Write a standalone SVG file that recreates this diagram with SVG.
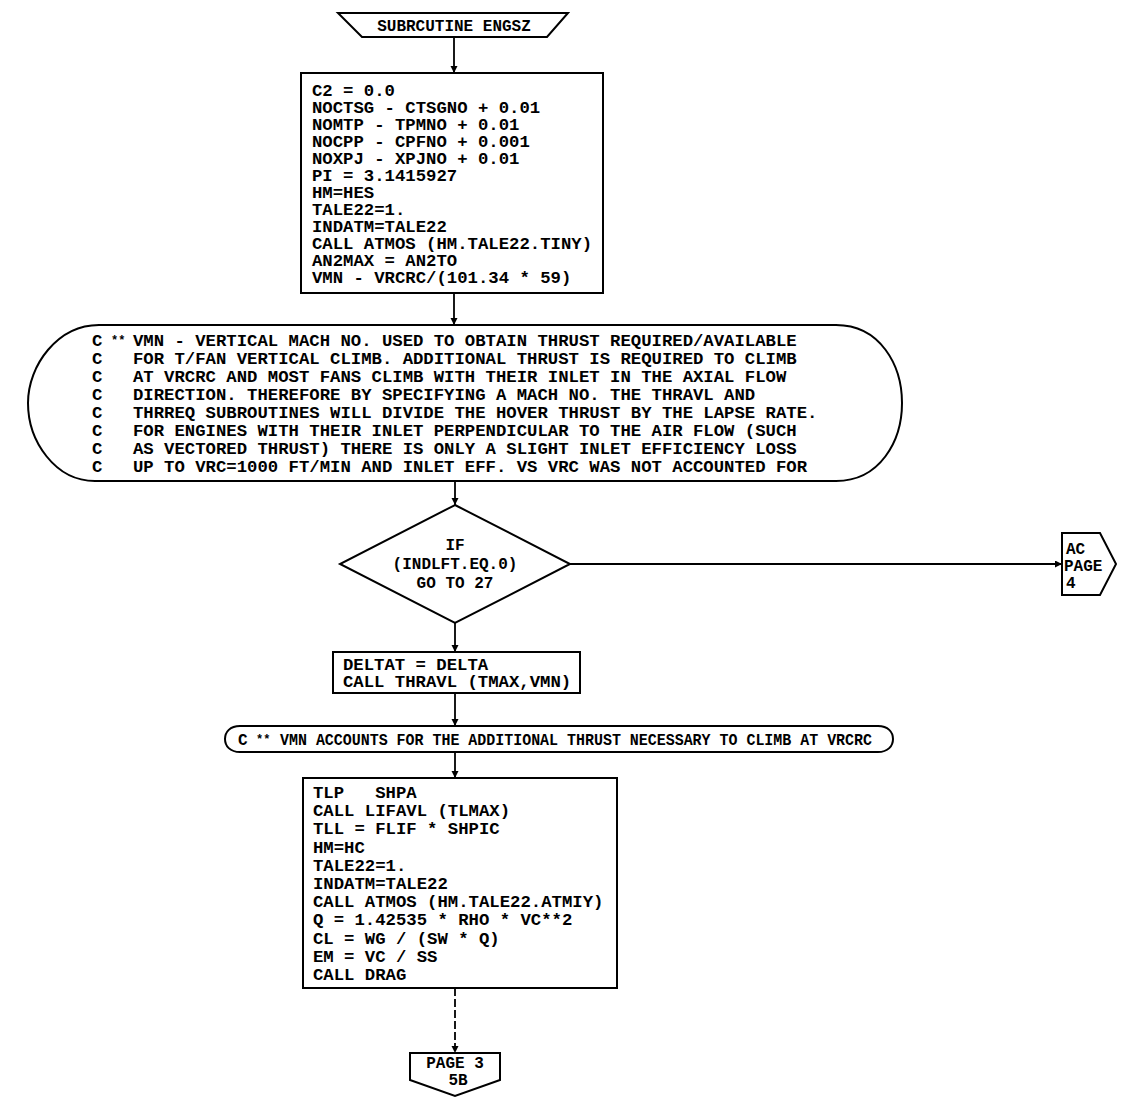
<svg xmlns="http://www.w3.org/2000/svg" width="1121" height="1114" viewBox="0 0 1121 1114">
<defs>
<marker id="arr" markerUnits="userSpaceOnUse" markerWidth="8" markerHeight="8" refX="7" refY="3.5" orient="auto">
<path d="M0,0 L7,3.5 L0,7 z" fill="#000"/>
</marker>
<style>
.shape{fill:#fff;stroke:#000;stroke-width:2}
text{white-space:pre}
.t{font-family:"Liberation Mono","DejaVu Sans Mono",monospace;font-size:17.3px;font-weight:bold;fill:#000}
.s{font-family:"Liberation Mono","DejaVu Sans Mono",monospace;font-size:16px;font-weight:bold;fill:#000}
.a{font-family:"Liberation Mono","DejaVu Sans Mono",monospace;font-size:12px;font-weight:bold;fill:#000}
.c{text-anchor:middle}
.ln{fill:none;stroke:#000;stroke-width:1.8}
.dash{stroke-dasharray:8 3}
</style>
</defs>
<rect width="1121" height="1114" fill="#fff"/>
<g id="connectors">
<line class="ln" x1="454" y1="37" x2="454" y2="73" marker-end="url(#arr)"/>
<line class="ln" x1="454" y1="293" x2="454" y2="325" marker-end="url(#arr)"/>
<line class="ln" x1="455" y1="481" x2="455" y2="505" marker-end="url(#arr)"/>
<line class="ln" x1="570" y1="564" x2="1062" y2="564" marker-end="url(#arr)"/>
<line class="ln" x1="455" y1="623" x2="455" y2="652" marker-end="url(#arr)"/>
<line class="ln" x1="455" y1="693" x2="455" y2="726" marker-end="url(#arr)"/>
<line class="ln" x1="455" y1="752" x2="455" y2="778" marker-end="url(#arr)"/>
<line class="ln dash" x1="455" y1="988" x2="455" y2="1053" marker-end="url(#arr)"/>
</g>
<g id="start">
<polygon class="shape" points="338,13 568,13 547,37 362,37"/>
<text class="s c" x="454" y="31">SUBRCUTINE ENGSZ</text>
</g>
<g id="box1">
<rect class="shape" x="301" y="73" width="302" height="220"/>
<text class="t" x="312" y="96">C2 = 0.0</text>
<text class="t" x="312" y="113">NOCTSG - CTSGNO + 0.01</text>
<text class="t" x="312" y="130">NOMTP - TPMNO + 0.01</text>
<text class="t" x="312" y="147">NOCPP - CPFNO + 0.001</text>
<text class="t" x="312" y="164">NOXPJ - XPJNO + 0.01</text>
<text class="t" x="312" y="181">PI = 3.1415927</text>
<text class="t" x="312" y="198">HM=HES</text>
<text class="t" x="312" y="215">TALE22=1.</text>
<text class="t" x="312" y="232">INDATM=TALE22</text>
<text class="t" x="312" y="249">CALL ATMOS (HM.TALE22.TINY)</text>
<text class="t" x="312" y="266">AN2MAX = AN2TO</text>
<text class="t" x="312" y="283">VMN - VRCRC/(101.34 * 59)</text>
</g>
<g id="comment1">
<path class="shape" d="M99,325 L836,325 C880,325 902,365 902,403 C902,441 880,481 836,481 L95,481 C55,481 28,441 28,403 C28,365 58,325 99,325 Z"/>
<text class="t" x="92" y="346">C</text><text class="a" x="111" y="344">**</text>
<text class="t" x="133" y="346">VMN - VERTICAL MACH NO. USED TO OBTAIN THRUST REQUIRED/AVAILABLE</text>
<text class="t" x="92" y="364">C</text>
<text class="t" x="133" y="364">FOR T/FAN VERTICAL CLIMB. ADDITIONAL THRUST IS REQUIRED TO CLIMB</text>
<text class="t" x="92" y="382">C</text>
<text class="t" x="133" y="382">AT VRCRC AND MOST FANS CLIMB WITH THEIR INLET IN THE AXIAL FLOW</text>
<text class="t" x="92" y="400">C</text>
<text class="t" x="133" y="400">DIRECTION. THEREFORE BY SPECIFYING A MACH NO. THE THRAVL AND</text>
<text class="t" x="92" y="418">C</text>
<text class="t" x="133" y="418">THRREQ SUBROUTINES WILL DIVIDE THE HOVER THRUST BY THE LAPSE RATE.</text>
<text class="t" x="92" y="436">C</text>
<text class="t" x="133" y="436">FOR ENGINES WITH THEIR INLET PERPENDICULAR TO THE AIR FLOW (SUCH</text>
<text class="t" x="92" y="454">C</text>
<text class="t" x="133" y="454">AS VECTORED THRUST) THERE IS ONLY A SLIGHT INLET EFFICIENCY LOSS</text>
<text class="t" x="92" y="472">C</text>
<text class="t" x="133" y="472">UP TO VRC=1000 FT/MIN AND INLET EFF. VS VRC WAS NOT ACCOUNTED FOR</text>
</g>
<g id="decision">
<polygon class="shape" points="455,505 570,564 455,623 340,564"/>
<text class="s c" x="455" y="550">IF</text>
<text class="s c" x="455" y="569">(INDLFT.EQ.0)</text>
<text class="s c" x="455" y="588">GO TO 27</text>
</g>
<g id="offpage4">
<polygon class="shape" points="1062,533 1100,533 1116,564 1100,595 1062,595"/>
<text class="s" x="1066" y="554">AC</text>
<text class="s" x="1064" y="571">PAGE</text>
<text class="s" x="1066" y="588">4</text>
</g>
<g id="box2">
<rect class="shape" x="333" y="652" width="247" height="41"/>
<text class="t" x="343" y="670">DELTAT = DELTA</text>
<text class="t" x="343" y="687">CALL THRAVL (TMAX,VMN)</text>
</g>
<g id="comment2">
<path class="shape" d="M240,726 L878,726 C888,726 893,732 893,739 C893,746 888,752 878,752 L240,752 C230,752 225,746 225,739 C225,732 230,726 240,726 Z"/>
<text class="s" x="238" y="745">C</text><text class="a" x="256" y="743">**</text>
<text class="s" x="280" y="745" textLength="592" lengthAdjust="spacingAndGlyphs">VMN ACCOUNTS FOR THE ADDITIONAL THRUST NECESSARY TO CLIMB AT VRCRC</text>
</g>
<g id="box3">
<rect class="shape" x="303" y="778" width="314" height="210"/>
<text class="t" x="313" y="798">TLP   SHPA</text>
<text class="t" x="313" y="816">CALL LIFAVL (TLMAX)</text>
<text class="t" x="313" y="834">TLL = FLIF * SHPIC</text>
<text class="t" x="313" y="853">HM=HC</text>
<text class="t" x="313" y="871">TALE22=1.</text>
<text class="t" x="313" y="889">INDATM=TALE22</text>
<text class="t" x="313" y="907">CALL ATMOS (HM.TALE22.ATMIY)</text>
<text class="t" x="313" y="925">Q = 1.42535 * RHO * VC**2</text>
<text class="t" x="313" y="944">CL = WG / (SW * Q)</text>
<text class="t" x="313" y="962">EM = VC / SS</text>
<text class="t" x="313" y="980">CALL DRAG</text>
</g>
<g id="offpage3">
<polygon class="shape" points="410,1053 500,1053 500,1080 455,1096 410,1080"/>
<text class="s c" x="455" y="1068">PAGE 3</text>
<text class="s c" x="458" y="1085">5B</text>
</g>
</svg>
